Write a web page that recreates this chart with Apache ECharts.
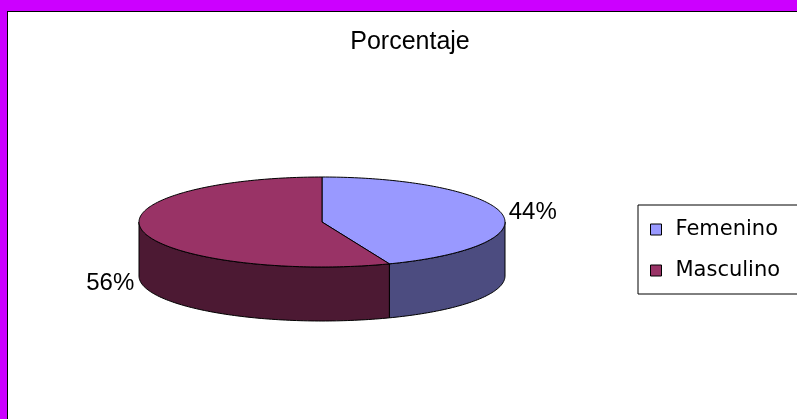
<!DOCTYPE html>
<html>
<head>
<meta charset="utf-8">
<script src="https://cdn.jsdelivr.net/npm/echarts@6/dist/echarts.min.js"></script>
<style>
html, body { margin: 0; padding: 0; background: #CC00FF; overflow: hidden; }
#chart {
	position: absolute; left: 7px; top: 11px;
	width: 789px; height: 407px;
	border-left: 1px solid #000; border-top: 1px solid #000;
	background: #fff;
}
</style>
</head>
<body>
<div id="chart"></div>
<script>
// datos
var categories = ['Femenino', 'Masculino'];
var values = [44, 56];
var topColors = ['#9999FF', '#993366'];
var sideColors = ['#4C4C80', '#4C1933'];

var myChart = echarts.init(document.getElementById('chart'));

// pastel 3D: elipse aplanada con grosor
var pie = { cx: 314, cy: 210, rx: 183, ry: 45, depth: 54 };
var total = values.reduce(function(a, b){ return a + b; }, 0);

function pt(t, dy) {
	return [pie.cx + pie.rx * Math.cos(t), pie.cy + pie.ry * Math.sin(t) + (dy || 0)];
}
function arc(a, b, dy) {
	var n = Math.max(2, Math.ceil(Math.abs(b - a) / 0.02));
	var out = [];
	for (var i = 0; i <= n; i++) out.push(pt(a + (b - a) * i / n, dy));
	return out;
}

function makeRender(idx) {
	return function(params, api) {
		var before = 0;
		for (var i = 0; i < idx; i++) before += values[i];
		var v = api.value(1);
		var a = -Math.PI / 2 + before / total * 2 * Math.PI;
		var b = a + v / total * 2 * Math.PI;
		var children = [];
		// pared frontal (solo la parte visible, sin > 0)
		[[0, Math.PI], [2 * Math.PI, 3 * Math.PI]].forEach(function(r){
			var s = Math.max(a, r[0]), e = Math.min(b, r[1]);
			if (e > s) {
				children.push({
					type: 'polygon',
					shape: { points: arc(s, e, 0).concat(arc(e, s, pie.depth)) },
					style: { fill: sideColors[idx], stroke: '#000', lineWidth: 1 }
				});
			}
		});
		// cara superior
		children.push({
			type: 'polygon',
			shape: { points: [[pie.cx, pie.cy]].concat(arc(a, b, 0)) },
			style: { fill: topColors[idx], stroke: '#000', lineWidth: 1 }
		});
		// etiqueta
		var m = (a + b) / 2;
		var p = pt(m, Math.sin(m) > 0 ? pie.depth : 0);
		var right = Math.cos(m) >= 0;
		children.push({
			type: 'text',
			x: p[0] + (right ? 7 : -8),
			y: p[1] - 1,
			style: {
				text: v + '%',
				align: right ? 'left' : 'right',
				verticalAlign: 'middle',
				fontFamily: 'Liberation Sans',
				fontSize: 24,
				fill: '#000'
			}
		});
		return { type: 'group', children: children };
	};
}

var series = categories.map(function(name, i){
	return {
		name: name,
		type: 'custom',
		coordinateSystem: 'none',
		silent: true,
		itemStyle: { color: topColors[i] },
		data: [[i, values[i]]],
		renderItem: makeRender(i)
	};
});

var option = {
	animation: false,
	title: {
		text: 'Porcentaje',
		left: 402,
		top: 18,
		textAlign: 'center',
		padding: 0,
		textStyle: { fontFamily: 'Liberation Sans', fontSize: 25, fontWeight: 'normal', color: '#000' }
	},
	legend: {
		orient: 'vertical',
		left: 630,
		top: 193,
		padding: [14, 40, 13, 12],
		itemGap: 20,
		itemWidth: 11,
		itemHeight: 11,
		icon: 'rect',
		borderColor: '#000',
		borderWidth: 1,
		itemStyle: { borderColor: '#000', borderWidth: 1 },
		textStyle: { fontFamily: 'DejaVu Sans', fontSize: 21, color: '#000', padding: [0, 0, 0, 9] },
		data: categories
	},
	series: series
};

myChart.setOption(option);
</script>
</body>
</html>
